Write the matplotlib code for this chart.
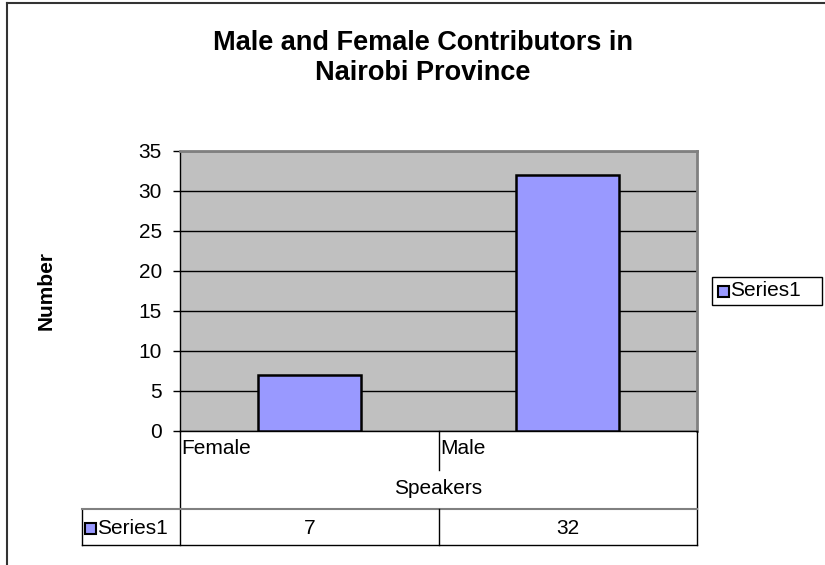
import matplotlib.pyplot as plt
import matplotlib.transforms as mtransforms
from matplotlib.patches import Rectangle

plt.rcParams['font.family'] = ['Liberation Sans', 'DejaVu Sans']

# chart data
categories = ['Female', 'Male']
values = [7, 32]
series_name = 'Series1'
title = 'Male and Female Contributors in\nNairobi Province'
xlabel = 'Speakers'
ylabel = 'Number'
yticks = [0, 5, 10, 15, 20, 25, 30, 35]

W, H = 825, 565
bar_color = '#9999FF'
fs = 15


def fx(x):
    return x / W


def fy(y):
    return 1 - y / H


fig = plt.figure(figsize=(W / 100, H / 100), dpi=100)

# outer chart frame (only left/top visible in the crop)
fig.add_artist(plt.Line2D([fx(6.5), fx(6.5)], [fy(3), fy(565)], color='#333333', lw=1.5))
fig.add_artist(plt.Line2D([fx(6.5), fx(825)], [fy(3), fy(3)], color='#333333', lw=1.5))

fig.text(fx(423), fy(58), title, ha='center', va='center', fontsize=19.5,
         fontweight='bold', linespacing=1.2)

ax = fig.add_axes([fx(180), fy(431), fx(697) - fx(180), fy(151) - fy(431)])
ax.set_facecolor('#C0C0C0')
x = list(range(len(categories)))
ax.bar(x, values, width=0.4, color=bar_color, edgecolor='black', linewidth=1.8, zorder=3)
ax.set_xlim(-0.5, len(categories) - 0.5)
ax.set_ylim(0, 35)
ax.set_yticks(yticks)
ax.set_yticklabels([str(t) for t in yticks], fontsize=fs)
ax.yaxis.grid(True, color='black', linewidth=1)
ax.set_axisbelow(True)
ax.tick_params(axis='y', length=5, width=1, pad=8)
ax.set_xticks([])
for s in ['top', 'right']:
    ax.spines[s].set_color('#808080')
    ax.spines[s].set_linewidth(2)
ax.spines['left'].set_color('black')
ax.spines['left'].set_linewidth(1)
ax.spines['bottom'].set_color('black')
ax.spines['bottom'].set_linewidth(1)

fig.text(fx(46), fy(291), ylabel, rotation=90, ha='center', va='center',
         fontsize=fs, fontweight='bold')

# data table under the axis
blend = mtransforms.blended_transform_factory(ax.transData, fig.transFigure)
row_left = 82
ln = dict(color='black', lw=1, transform=fig.transFigure, clip_on=False)
fig.add_artist(plt.Line2D([fx(180), fx(180)], [fy(431), fy(545)], **ln))
fig.add_artist(plt.Line2D([fx(697), fx(697)], [fy(431), fy(545)], **ln))
fig.add_artist(plt.Line2D([fx(row_left), fx(row_left)], [fy(509), fy(545)], **ln))
fig.add_artist(plt.Line2D([fx(row_left), fx(697)], [fy(545), fy(545)], **ln))
fig.add_artist(plt.Line2D([fx(row_left), fx(697)], [fy(509), fy(509)], color='#808080', lw=1.5))
for i in range(1, len(categories)):
    b = i - 0.5
    fig.add_artist(plt.Line2D([b, b], [fy(431), fy(470)], color='black', lw=1, transform=blend))
    fig.add_artist(plt.Line2D([b, b], [fy(509), fy(545)], color='black', lw=1, transform=blend))

for i, (c, v) in enumerate(zip(categories, values)):
    fig.text(i - 0.5 + 0.006, fy(449), c, ha='left', va='center', fontsize=fs, transform=blend)
    fig.text(i, fy(528), str(v), ha='center', va='center', fontsize=fs, transform=blend)
fig.text(fx(438), fy(489), xlabel, ha='center', va='center', fontsize=fs)

fig.add_artist(Rectangle((fx(row_left + 3), fy(534)), fx(11), fy(523) - fy(534), facecolor=bar_color,
                         edgecolor='black', lw=1.5, transform=fig.transFigure))
fig.text(fx(row_left + 15), fy(528), series_name, ha='left', va='center', fontsize=fs)

# legend box
fig.add_artist(Rectangle((fx(712), fy(305)), fx(822) - fx(712), fy(277) - fy(305),
                         facecolor='white', edgecolor='black', lw=1, transform=fig.transFigure))
fig.add_artist(Rectangle((fx(718), fy(297)), fx(11), fy(286) - fy(297), facecolor=bar_color,
                         edgecolor='black', lw=1.5, transform=fig.transFigure))
fig.text(fx(730), fy(291), series_name, ha='left', va='center', fontsize=fs)

fig.savefig('out.png', dpi=100)
